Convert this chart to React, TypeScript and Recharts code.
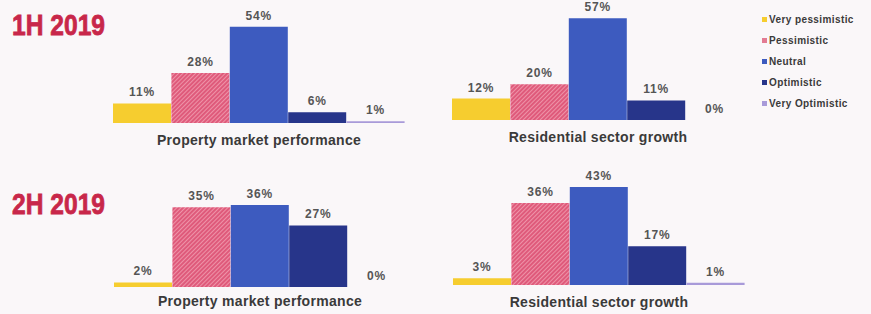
import { BarChart, Bar, XAxis, YAxis, Cell, LabelList } from 'recharts';

const sentiments = ['Very pessimistic', 'Pessimistic', 'Neutral', 'Optimistic', 'Very Optimistic'];
const sentimentColors = ['#f6cd2f', 'url(#pinkHatch)', '#3d5bbf', '#27358a', '#a89ad9'];
const legendColors = ['#f6cd2f', '#e37b93', '#3d5bbf', '#27358a', '#a89ad9'];

const periods = ['1H 2019', '2H 2019'];
const topics = ['Property market performance', 'Residential sector growth'];

// percentages per sentiment, in the order of `sentiments`
const property1H = [11, 28, 54, 6, 1];
const residential1H = [12, 20, 57, 11, 0];
const property2H = [2, 35, 36, 27, 0];
const residential2H = [3, 36, 43, 17, 1];

const FONT = '"Liberation Sans", Arial, sans-serif';

interface PanelProps {
  values: number[];
  label: string;
  left: number;
  plotTop: number;
  plotHeight: number;
  yMax: number;
  labelTop: number;
}

function Panel({ values, label, left, plotTop, plotHeight, yMax, labelTop }: PanelProps) {
  const data = sentiments.map((name, i) => ({ name, value: values[i] }));
  const marginTop = 22;
  const width = 292;

  return (
    <>
      <div style={{ position: 'absolute', left, top: plotTop - marginTop }}>
        <BarChart
          width={width}
          height={plotHeight + marginTop}
          data={data}
          margin={{ top: marginTop, right: 0, left: 0, bottom: 0 }}
          barCategoryGap={0}
          barGap={0}
        >
          <defs>
            <pattern id="pinkHatch" patternUnits="userSpaceOnUse" width="3" height="3" patternTransform="rotate(45)">
              <rect width="3" height="3" fill="#df5a7b" />
              <rect width="1" height="3" fill="#ee93a8" />
            </pattern>
          </defs>
          <XAxis dataKey="name" hide />
          <YAxis hide domain={[0, yMax]} />
          {/* tiny minPointSize so the 0% slots still get their label */}
          <Bar dataKey="value" isAnimationActive={false} minPointSize={0.01}>
            {data.map((d, i) => (
              <Cell key={d.name} fill={sentimentColors[i]} />
            ))}
            <LabelList
              dataKey="value"
              position="top"
              offset={7}
              formatter={(v: any) => `${v}%`}
              style={{ fill: '#555', fontSize: 12, fontWeight: 700, fontFamily: FONT, letterSpacing: 0.8 }}
            />
          </Bar>
        </BarChart>
      </div>
      <div
        style={{
          position: 'absolute',
          left: left - 30,
          top: labelTop,
          width: width + 60,
          textAlign: 'center',
          fontFamily: FONT,
          fontWeight: 700,
          fontSize: 14,
          letterSpacing: 0.3,
          color: '#3a3a3a',
        }}
      >
        {label}
      </div>
    </>
  );
}

export default function App() {
  const titleStyle = {
    position: 'absolute' as const,
    left: 12,
    fontFamily: FONT,
    fontWeight: 700,
    fontSize: 30,
    color: '#c8274a',
    lineHeight: 1,
    whiteSpace: 'nowrap' as const,
    WebkitTextStroke: '0.8px #c8274a',
    transform: 'scaleX(0.82)',
    transformOrigin: 'left top',
  };

  return (
    <div style={{ position: 'absolute', left: 0, top: 0, width: 871, height: 314, background: '#faf7f9', overflow: 'hidden' }}>
      <div style={{ ...titleStyle, top: 10 }}>{periods[0]}</div>
      <div style={{ ...titleStyle, top: 189 }}>{periods[1]}</div>

      <Panel values={property1H} label={topics[0]} left={113} plotTop={16} plotHeight={107} yMax={60} labelTop={132} />
      <Panel values={residential1H} label={topics[1]} left={452} plotTop={13} plotHeight={107} yMax={60} labelTop={129} />
      <Panel values={property2H} label={topics[0]} left={114} plotTop={173} plotHeight={114} yMax={50} labelTop={293} />
      <Panel values={residential2H} label={topics[1]} left={453} plotTop={171} plotHeight={114} yMax={50} labelTop={294} />

      <div style={{ position: 'absolute', left: 762, top: 9, fontFamily: FONT, fontWeight: 700, fontSize: 10, letterSpacing: 0.4, color: '#3a3a3a' }}>
        {sentiments.map((s, i) => (
          <div key={s} style={{ display: 'flex', alignItems: 'center', height: 21, whiteSpace: 'nowrap' }}>
            <span style={{ width: 5, height: 5, background: legendColors[i], marginRight: 2, display: 'inline-block' }} />
            {s}
          </div>
        ))}
      </div>
    </div>
  );
}
